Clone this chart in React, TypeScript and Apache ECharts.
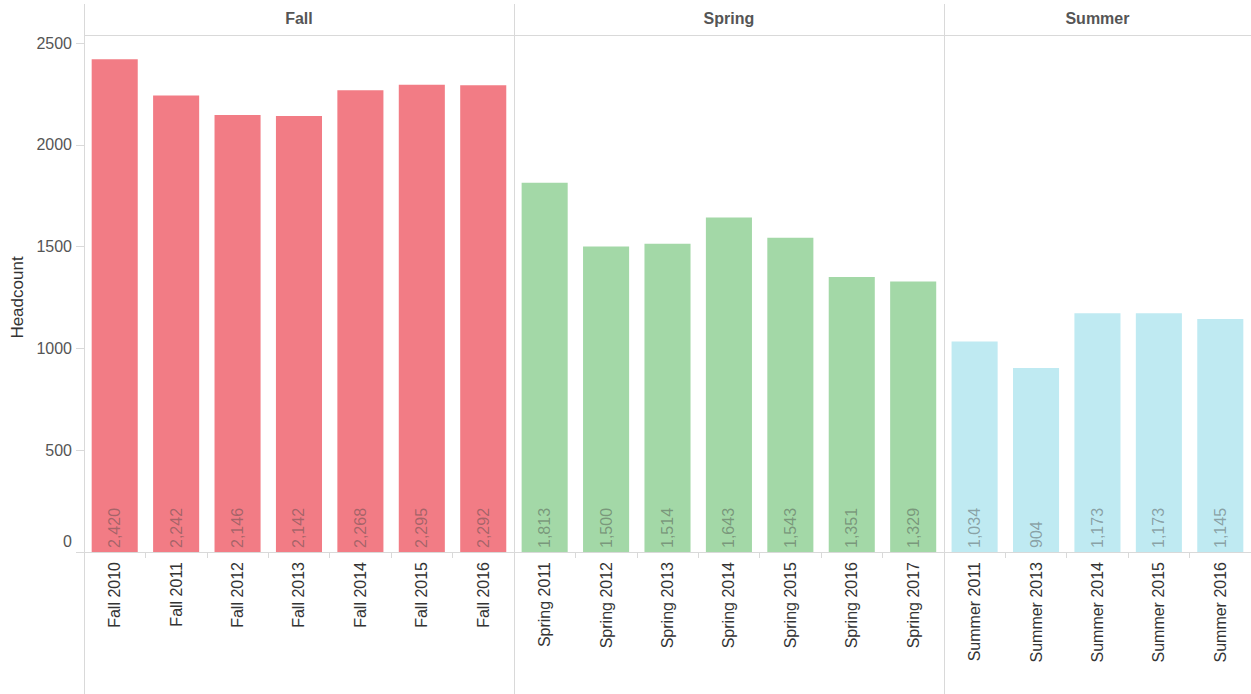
import React, { useEffect, useRef } from "react";
import * as echarts from "echarts";

const categories = [
  "Fall 2010", "Fall 2011", "Fall 2012", "Fall 2013", "Fall 2014", "Fall 2015", "Fall 2016",
  "Spring 2011", "Spring 2012", "Spring 2013", "Spring 2014", "Spring 2015", "Spring 2016", "Spring 2017",
  "Summer 2011", "Summer 2013", "Summer 2014", "Summer 2015", "Summer 2016",
];
const fallValues = [2420, 2242, 2146, 2142, 2268, 2295, 2292];
const springValues = [1813, 1500, 1514, 1643, 1543, 1351, 1329];
const summerValues = [1034, 904, 1173, 1173, 1145];
const paneNames = ["Fall", "Spring", "Summer"];
const paneColors = ["#F27C85", "#A3D8A7", "#BFEAF2"];
const yTicks = [0, 500, 1000, 1500, 2000, 2500];

const W = 1251;
const H = 694;
const GL = 84;
const GT = 43;
const GB = 142;
const FONT = "'Liberation Sans', Arial, sans-serif";
const LINE = "#d9d9d9";

export default function App() {
  const ref = useRef<HTMLDivElement>(null);
  useEffect(() => {
    if (!ref.current) return;
    const chart = echarts.init(ref.current, undefined, { renderer: "svg" });
    const groups = [fallValues, springValues, summerValues];
    const n = categories.length;
    const band = (W - GL) / n;
    let offset = 0;
    const series: any[] = [];
    const graphics: any[] = [];
    const dividers: number[] = [GL];
    groups.forEach((vals, gi) => {
      const data = categories.map((_, i) =>
        i >= offset && i < offset + vals.length ? vals[i - offset] : "-"
      );
      series.push({
        type: "bar",
        name: paneNames[gi],
        data,
        barGap: "-100%",
        barCategoryGap: "25%",
        itemStyle: { color: paneColors[gi] },
        label: {
          show: true,
          position: "insideBottom",
          rotate: 90,
          align: "left",
          verticalAlign: "middle",
          distance: 4,
          fontFamily: FONT,
          fontSize: 16,
          color: "rgba(70,70,70,0.45)",
          formatter: (p: any) => Number(p.value).toLocaleString("en-US"),
        },
      });
      const x0 = GL + offset * band;
      const x1 = GL + (offset + vals.length) * band;
      graphics.push({
        type: "text",
        x: (x0 + x1) / 2,
        y: 18,
        style: {
          text: paneNames[gi],
          fontFamily: FONT,
          fontSize: 16,
          fontWeight: "bold",
          fill: "#555",
          align: "center",
          verticalAlign: "middle",
        },
      });
      offset += vals.length;
      dividers.push(GL + offset * band);
    });
    dividers.slice(0, 3).forEach((x) => {
      graphics.push({
        type: "line",
        shape: { x1: Math.round(x) + 0.5, y1: 4, x2: Math.round(x) + 0.5, y2: H },
        style: { stroke: LINE, lineWidth: 1 },
        z: 10,
      });
    });
    graphics.push({
      type: "line",
      shape: { x1: GL, y1: 35.5, x2: W, y2: 35.5 },
      style: { stroke: LINE, lineWidth: 1 },
      z: 10,
    });

    chart.setOption({
      animation: false,
      grid: {
        left: GL,
        right: 0,
        top: GT,
        bottom: GB,
        containLabel: false,
        outerBoundsMode: "none",
      },
      xAxis: {
        type: "category",
        data: categories,
        axisLine: { show: true, lineStyle: { color: LINE } },
        axisTick: { show: true, length: 6, alignWithLabel: false, lineStyle: { color: LINE } },
        axisLabel: {
          rotate: 90,
          interval: 0,
          margin: 10,
          fontFamily: FONT,
          fontSize: 16,
          color: "#333",
        },
      },
      yAxis: {
        type: "value",
        min: 0,
        max: 2500,
        interval: 500,
        name: "Headcount",
        nameLocation: "middle",
        nameGap: 56,
        nameRotate: 90,
        nameTextStyle: { fontFamily: FONT, fontSize: 17, color: "#333" },
        axisLine: { show: false },
        axisTick: { show: true, length: 8, lineStyle: { color: LINE } },
        splitLine: { show: false },
        axisLabel: {
          margin: 12,
          fontFamily: FONT,
          fontSize: 16,
          color: "#555",
          formatter: (v: number) => (v === yTicks[0] ? "{z|" + v + "}" : String(v)),
          rich: { z: { fontFamily: FONT, fontSize: 16, color: "#555", padding: [0, 0, 22, 0] } },
        },
      },
      series,
      graphic: graphics,
    });
    return () => chart.dispose();
  }, []);
  return (
    <div
      ref={ref}
      style={{ position: "absolute", left: 0, top: 0, width: W, height: H, background: "#fff" }}
    />
  );
}
